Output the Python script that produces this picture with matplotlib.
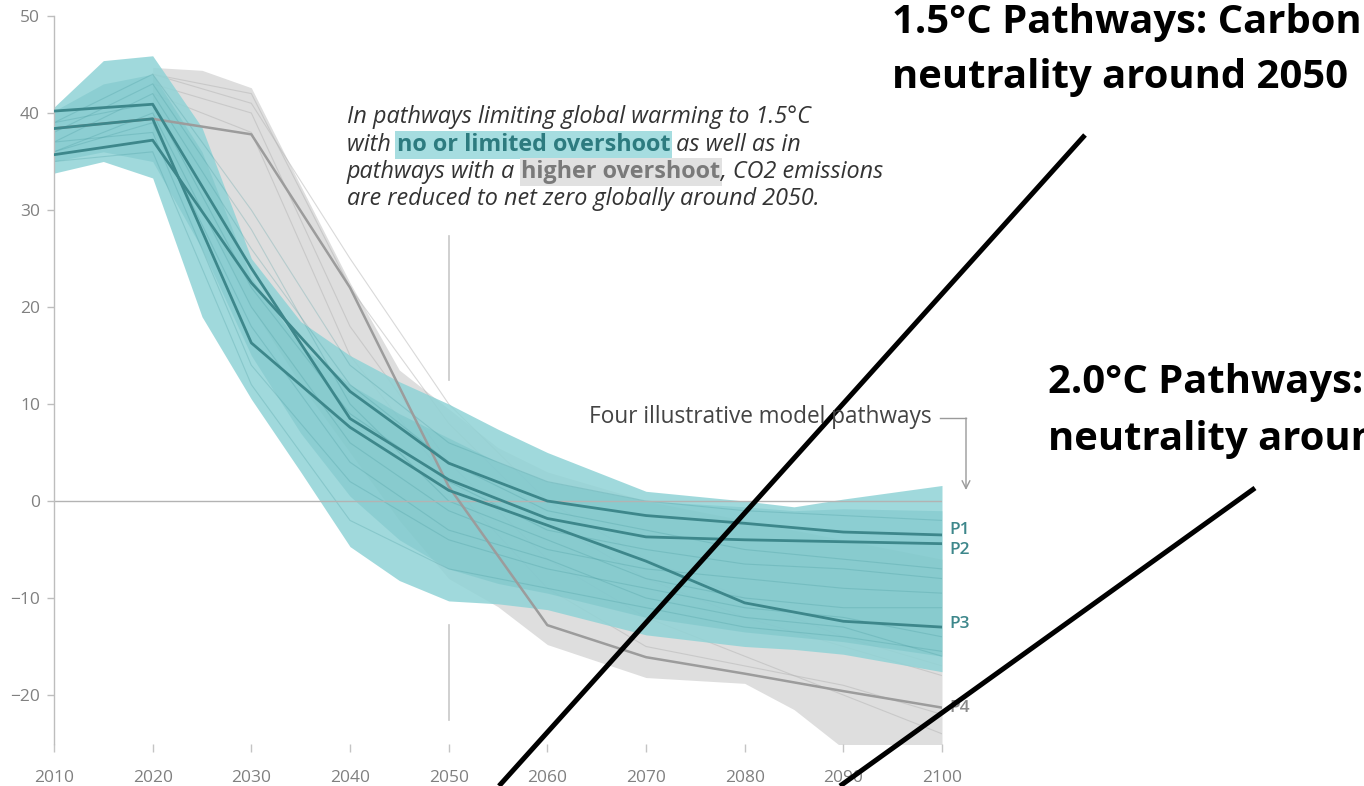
import matplotlib
matplotlib.use("Agg")
import matplotlib.pyplot as plt
from matplotlib.lines import Line2D

# ---- data (GtCO2/yr) ----
band_years = [2010, 2015, 2020, 2025, 2030, 2035, 2040, 2045, 2050, 2055, 2060, 2070, 2080, 2085, 2090, 2100]
teal_hi = [40.6, 45.4, 45.9, 38.5, 25.0, 18.5, 15.0, 12.3, 10.0, 7.4, 5.0, 1.0, 0.0, -0.6, 0.2, 1.6]
teal_lo = [33.8, 35.0, 33.3, 19.0, 10.5, 3.0, -4.7, -8.2, -10.3, -10.6, -11.2, -13.8, -15.0, -15.3, -15.8, -17.6]
teal_core_hi = [40.2, 43.0, 44.0, 36.0, 23.0, 16.0, 12.0, 9.0, 6.5, 4.0, 2.0, 0.0, -0.6, -1.0, -0.8, -1.0]
teal_core_lo = [35.0, 36.0, 35.0, 26.0, 15.0, 7.0, 0.5, -4.0, -7.0, -8.5, -9.5, -12.0, -13.5, -14.0, -14.5, -16.0]

gray_years = [2020, 2025, 2030, 2035, 2040, 2045, 2050, 2055, 2060, 2070, 2080, 2085, 2090, 2100]
gray_hi = [44.7, 44.4, 42.6, 32.5, 22.5, 13.5, 9.5, 5.5, 3.0, 0.0, -2.0, -3.0, -4.0, -6.0]
gray_lo = [38.0, 30.0, 20.0, 12.0, 5.0, -2.0, -8.0, -10.9, -14.8, -18.2, -18.8, -21.5, -25.5, -27.0]

dec_years = [2010, 2020, 2030, 2040, 2050, 2060, 2070, 2080, 2090, 2100]
teal_runs = [
    [39.0, 44.0, 30.0, 14.0, 6.0, 2.0, 0.0, -1.0, -1.5, -2.0],
    [37.0, 42.0, 26.0, 12.0, 4.0, -1.0, -3.0, -5.0, -6.0, -7.0],
    [36.0, 40.0, 20.0, 6.0, -1.0, -5.0, -7.0, -8.0, -9.0, -9.5],
    [38.0, 43.0, 28.0, 10.0, 0.0, -4.0, -8.0, -10.0, -11.0, -11.0],
    [37.0, 38.0, 14.0, 2.0, -4.0, -7.0, -9.0, -11.0, -12.0, -14.0],
    [35.0, 36.0, 12.0, -2.0, -7.0, -9.0, -11.0, -13.0, -14.0, -15.5],
    [39.0, 41.0, 22.0, 9.0, 2.0, -3.0, -5.0, -6.5, -7.0, -8.0],
    [36.0, 39.0, 18.0, 4.0, -3.0, -6.0, -10.0, -12.0, -13.0, -16.0],
]
gray_run_years = [2020, 2030, 2040, 2050, 2060, 2070, 2080, 2090, 2100]
gray_runs = [
    [44.0, 42.0, 22.0, 8.0, -2.0, -8.0, -12.0, -15.0, -18.0],
    [43.0, 40.0, 18.0, 4.0, -6.0, -12.0, -16.0, -20.0, -24.0],
    [42.0, 38.0, 15.0, 2.0, -9.0, -15.0, -17.0, -19.0, -22.0],
    [44.0, 41.0, 25.0, 10.0, 0.0, -6.0, -10.0, -14.0, -17.0],
]

p1 = [35.7, 37.2, 22.5, 11.3, 3.9, 0.0, -1.5, -2.3, -3.2, -3.5]
p2 = [40.2, 40.9, 24.0, 8.5, 2.2, -1.8, -3.7, -4.0, -4.2, -4.4]
p3 = [38.4, 39.4, 16.3, 7.6, 1.1, -2.5, -6.2, -10.5, -12.4, -13.0]
p4 = [38.4, 39.4, 37.8, 22.0, 1.5, -12.8, -16.1, -17.8, -19.6, -21.3]
path_names = ["P1", "P2", "P3", "P4"]

y_ticks = [-20, -10, 0, 10, 20, 30, 40, 50]
x_ticks = [2010, 2020, 2030, 2040, 2050, 2060, 2070, 2080, 2090, 2100]

# ---- figure ----
W, H = 1364, 786
fig = plt.figure(figsize=(W / 100, H / 100), dpi=100)
fig.patch.set_facecolor("white")


def fx(px):
    return px / W


def fy(py):
    return 1 - py / H


ax = fig.add_axes([fx(54), fy(743.5), fx(942) - fx(54), fy(16) - fy(743.5)])
ax.set_xlim(2010, 2100)
ax.set_ylim(-25, 50)

TEAL = "#90d3d6"
TEAL_CORE = "#67bbc0"
TEAL_DARK = "#3d878b"
GRAY = "#dedede"
GRAY_LINE = "#9c9c9c"
SANS = "Open Sans"

# higher-overshoot band
ax.fill_between(gray_years, gray_lo, gray_hi, color=GRAY, lw=0, zorder=1)
for r in gray_runs:
    ax.plot(gray_run_years, r, color="#b4b4b4", lw=0.8, alpha=0.5, zorder=1.5)

# no/limited overshoot band
ax.fill_between(band_years, teal_lo, teal_hi, color=TEAL, alpha=0.85, lw=0, zorder=2)
ax.fill_between(band_years, teal_core_lo, teal_core_hi, color=TEAL_CORE, alpha=0.35, lw=0, zorder=2.1)
for r in teal_runs:
    ax.plot(dec_years, r, color="#3f9499", lw=0.8, alpha=0.25, zorder=2.2)

# axes styling
for s in ["top", "right", "bottom"]:
    ax.spines[s].set_visible(False)
ax.spines["left"].set_color("#bdbdbd")
ax.spines["left"].set_linewidth(1.0)
ax.set_yticks(y_ticks)
ax.set_xticks(x_ticks)
ax.tick_params(axis="y", direction="out", length=5, width=1, color="#bdbdbd",
               pad=5, labelsize=12.5, labelcolor="#808080")
ax.tick_params(axis="x", direction="out", length=6, width=1, color="#c4c4c4",
               pad=13, labelsize=12.5, labelcolor="#808080")
for lab in ax.get_xticklabels() + ax.get_yticklabels():
    lab.set_family(SANS)
ax.set_facecolor("none")

ax.axhline(0, color="#b3b3b3", lw=1.0, zorder=2.5)
ax.plot([2050, 2050], [12.5, 27.3], color="#c8c8c8", lw=1.2, zorder=0.5)
ax.plot([2050, 2050], [-12.8, -22.6], color="#c8c8c8", lw=1.2, zorder=0.5)

# illustrative pathways
ax.plot(dec_years, p4, color=GRAY_LINE, lw=1.8, zorder=3)
for p in (p1, p2, p3):
    ax.plot(dec_years, p, color=TEAL_DARK, lw=2.0, zorder=3.2)

label_offsets = [5, -6, 3, 0]
for name, p, dy in zip(path_names, (p1, p2, p3, p4), label_offsets):
    col = TEAL_DARK if name != "P4" else "#8c8c8c"
    ax.annotate(name, xy=(2100, p[-1]), xytext=(7, dy), textcoords="offset pixels",
                ha="left", va="center", fontsize=12.5, fontweight="semibold",
                family=SANS, color=col, annotation_clip=False)

# leader for the illustrative pathways
fig.text(fx(932), fy(423), "Four illustrative model pathways", ha="right", va="baseline",
         fontsize=16.3, family=SANS, color="#444444")
fig.add_artist(Line2D([fx(940), fx(966)], [fy(418), fy(418)], color="#9a9a9a", lw=1.0))
ax.annotate("", xy=(fx(966), fy(490)), xytext=(fx(966), fy(418)),
            xycoords="figure fraction", textcoords="figure fraction",
            arrowprops=dict(arrowstyle="->", color="#9a9a9a", lw=1.0,
                            shrinkA=0, shrinkB=0, mutation_scale=14))

# explanatory note with highlighted phrases
renderer = fig.canvas.get_renderer()
NOTE_SIZE = 16.8
ital = dict(fontsize=NOTE_SIZE, family=SANS, style="italic", color="#333333")


def run_line(x_px, base_px, runs):
    x = x_px
    for txt, kw in runs:
        t = fig.text(fx(x), fy(base_px), txt, ha="left", va="baseline", **kw)
        x += t.get_window_extent(renderer=renderer).width


teal_hl = dict(fontsize=NOTE_SIZE, family=SANS, fontweight="bold", color="#2d7b7f",
               bbox=dict(boxstyle="square,pad=0.08", fc="#a6dde0", ec="none"))
gray_hl = dict(fontsize=NOTE_SIZE, family=SANS, fontweight="bold", color="#7a7a7a",
               bbox=dict(boxstyle="square,pad=0.08", fc="#e1e1e1", ec="none"))

run_line(347, 123, [("In pathways limiting global warming to 1.5°C", ital)])
run_line(347, 151, [("with ", ital), ("no or limited overshoot", teal_hl), (" as well as in", ital)])
run_line(347, 178, [("pathways with a ", ital), ("higher overshoot", gray_hl),
                    (", CO2 emissions", ital)])
run_line(347, 205, [("are reduced to net zero globally around 2050.", ital)])

# callouts
big = dict(fontsize=28.8, family=SANS, fontweight="bold", color="black", ha="left", va="baseline")
fig.text(fx(892), fy(33), "1.5°C Pathways: Carbon", **big)
fig.text(fx(892), fy(88), "neutrality around 2050", **big)
fig.text(fx(1048), fy(393), "2.0°C Pathways: Carbon", **big)
fig.text(fx(1048), fy(450), "neutrality around 2070", **big)
fig.add_artist(Line2D([fx(1085), fx(499)], [fy(135), fy(786)], color="black", lw=3.6,
                      solid_capstyle="butt"))
fig.add_artist(Line2D([fx(1255), fx(840)], [fy(488), fy(786)], color="black", lw=3.6,
                      solid_capstyle="butt"))

fig.savefig("out.png", dpi=100, facecolor="white")
